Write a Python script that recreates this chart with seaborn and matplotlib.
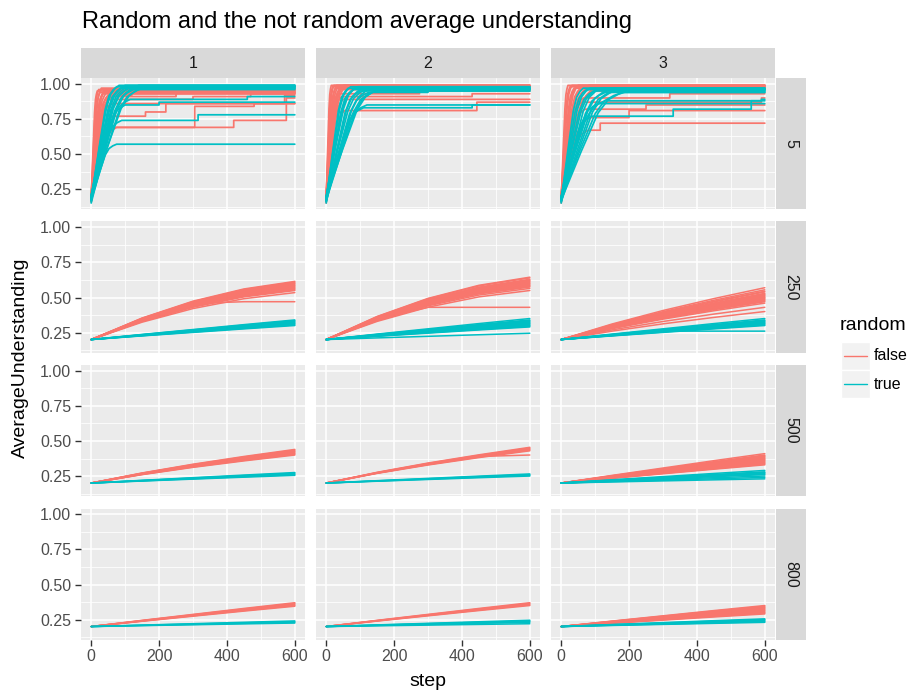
import numpy as np
import pandas as pd
import matplotlib
matplotlib.use("Agg")
import matplotlib.pyplot as plt
import seaborn as sns
from matplotlib.patches import Rectangle
from matplotlib.lines import Line2D

sns.set_theme(style="darkgrid")
plt.rcParams['font.family'] = ['Liberation Sans', 'DejaVu Sans']

# ---------------- data ----------------
TITLE = "Random and the not random average understanding"
COL_LEVELS = ["1", "2", "3"]
ROW_LEVELS = ["5", "250", "500", "800"]
GROUPS = ["false", "true"]
COLORS = {"false": "#F8766D", "true": "#00BFC4"}
X_TICKS = [0, 200, 400, 600]
Y_TICKS = [0.25, 0.50, 0.75, 1.00]
Y_TICK_LABELS = ["0.25", "0.50", "0.75", "1.00"]
LAST_STEP = 600

# Row "5": lines rise fast, then hold a plateau with occasional jumps.
# shape of the early rise (fraction of rise duration -> fraction of rise height)
RISE_FRAC_STEP = [0.0, 0.3, 0.55, 0.7, 0.85, 1.0]
RISE_FRAC_VAL = [0.0, 0.45, 0.8, 0.92, 0.97, 1.0]

# each line: (start value, step where rise ends, plateau, [(jump step, new value), ...])
r5_c1_false = [
    (0.17, 18, 0.95, []), (0.19, 22, 0.96, []), (0.16, 26, 0.94, []),
    (0.20, 30, 0.97, []), (0.18, 34, 0.93, []), (0.21, 38, 0.95, []),
    (0.17, 42, 0.96, []), (0.19, 46, 0.94, []), (0.18, 50, 0.92, [(120, 0.95)]),
    (0.20, 55, 0.93, []), (0.17, 60, 0.91, [(250, 0.94)]),
    (0.16, 66, 0.95, []), (0.19, 72, 0.96, []),
    (0.17, 75, 0.69, [(305, 0.84), (480, 0.86)]),
    (0.19, 70, 0.69, [(420, 0.74), (575, 0.90)]),
    (0.18, 62, 0.77, [(160, 0.80), (220, 0.86)]),
    (0.20, 58, 0.86, [(570, 0.92)]),
    (0.16, 52, 0.89, [(300, 0.91), (470, 0.93)]),
]
r5_c1_true = [
    (0.17, 75, 0.98, []), (0.19, 82, 0.99, []), (0.16, 88, 0.97, []),
    (0.20, 94, 0.98, []), (0.18, 100, 0.99, []), (0.17, 106, 0.98, []),
    (0.21, 112, 0.97, []), (0.19, 118, 0.98, []), (0.18, 125, 0.96, []),
    (0.15, 132, 0.98, []), (0.18, 140, 0.99, []), (0.17, 150, 0.97, []),
    (0.20, 160, 0.98, []),
    (0.18, 75, 0.57, []),
    (0.19, 90, 0.74, [(315, 0.78)]),
    (0.17, 100, 0.85, [(200, 0.87)]),
    (0.18, 115, 0.89, [(460, 0.91)]),
]
r5_c2_false = [
    (0.16, 15, 0.99, []), (0.18, 19, 0.98, []), (0.20, 23, 0.99, []),
    (0.17, 27, 0.97, []), (0.19, 31, 0.99, []), (0.15, 35, 0.98, []),
    (0.21, 39, 0.96, []), (0.18, 43, 0.98, []), (0.20, 47, 0.97, []),
    (0.16, 52, 0.99, []), (0.19, 57, 0.98, []),
    (0.18, 55, 0.81, [(444, 0.87)]),
    (0.19, 45, 0.91, [(430, 0.93)]),
    (0.17, 40, 0.93, [(275, 0.95)]),
    (0.20, 50, 0.89, []),
]
r5_c2_true = [
    (0.16, 65, 0.97, []), (0.18, 72, 0.98, []), (0.17, 79, 0.96, []),
    (0.19, 86, 0.97, []), (0.20, 93, 0.98, []), (0.15, 100, 0.95, []),
    (0.18, 108, 0.97, []), (0.19, 116, 0.96, []), (0.17, 125, 0.94, [(300, 0.96)]),
    (0.16, 135, 0.97, []), (0.18, 145, 0.95, []), (0.17, 155, 0.96, []),
    (0.19, 165, 0.97, []),
    (0.18, 110, 0.83, [(430, 0.85)]),
    (0.19, 120, 0.85, []),
]
r5_c3_false = [
    (0.16, 20, 0.99, []), (0.18, 26, 0.98, []), (0.20, 32, 0.99, []),
    (0.17, 38, 0.97, []), (0.19, 44, 0.98, []), (0.15, 50, 0.99, []),
    (0.21, 57, 0.97, []), (0.18, 64, 0.98, []), (0.20, 72, 0.96, []),
    (0.17, 82, 0.99, []), (0.19, 92, 0.95, [(580, 0.97)]),
    (0.16, 104, 0.98, []),
    (0.18, 80, 0.67, [(115, 0.72)]),
    (0.19, 85, 0.76, [(200, 0.81)]),
    (0.17, 70, 0.82, [(250, 0.85)]),
    (0.20, 65, 0.90, [(320, 0.93)]),
    (0.18, 60, 0.87, [(590, 0.90)]),
]
r5_c3_true = [
    (0.16, 65, 0.97, []), (0.18, 75, 0.96, []), (0.17, 85, 0.97, []),
    (0.19, 96, 0.95, []), (0.20, 107, 0.96, []), (0.15, 118, 0.97, []),
    (0.18, 130, 0.94, []), (0.19, 142, 0.96, []), (0.17, 155, 0.95, []),
    (0.16, 168, 0.96, []), (0.18, 182, 0.94, []), (0.17, 198, 0.95, []),
    (0.18, 90, 0.77, [(330, 0.82), (560, 0.88)]),
    (0.19, 130, 0.88, [(590, 0.89)]),
    (0.17, 110, 0.86, []),
]

# Rows "250", "500", "800": slow growth from 0.2.
START_VALUE = 0.20
KNOTS = [0, 150, 300, 450, 600]
# growth curve: fraction of total gain reached at each knot
CURVE_CONCAVE = [0.0, 0.37, 0.66, 0.87, 1.0]
CURVE_MILD = [0.0, 0.30, 0.56, 0.79, 1.0]
CURVE_LINEAR = [0.0, 0.26, 0.51, 0.76, 1.0]
# ends: final values; stalls: (final value if continued, value where it stops)
r250_c1_false_ends = [0.535, 0.55, 0.555, 0.56, 0.565, 0.57, 0.575, 0.58, 0.585,
                      0.59, 0.595, 0.60, 0.605, 0.61, 0.615]
r250_c1_false_stalls = [(0.59, 0.47)]
r250_c1_true_ends = [0.30, 0.305, 0.31, 0.315, 0.32, 0.325, 0.33, 0.335, 0.34]
r250_c2_false_ends = [0.55, 0.565, 0.575, 0.58, 0.585, 0.59, 0.595, 0.60, 0.605,
                      0.61, 0.615, 0.62, 0.625, 0.63, 0.64, 0.645]
r250_c2_false_stalls = [(0.60, 0.43)]
r250_c2_true_ends = [0.245, 0.29, 0.295, 0.30, 0.305, 0.31, 0.315, 0.32, 0.325,
                     0.33, 0.335, 0.34, 0.35]
r250_c3_false_ends = [0.40, 0.43, 0.46, 0.47, 0.475, 0.48, 0.485, 0.49, 0.495, 0.50,
                      0.505, 0.51, 0.515, 0.52, 0.525, 0.53, 0.54, 0.545, 0.555, 0.57]
r250_c3_true_ends = [0.30, 0.305, 0.31, 0.315, 0.32, 0.325, 0.33, 0.335, 0.34, 0.35]
r250_c3_true_stalls = [(0.32, 0.26)]

r500_c1_false_ends = [0.40, 0.405, 0.41, 0.415, 0.42, 0.425, 0.43, 0.435, 0.44]
r500_c1_true_ends = [0.255, 0.26, 0.265, 0.27, 0.275]
r500_c2_false_ends = [0.43, 0.435, 0.44, 0.445, 0.45, 0.455]
r500_c2_false_stalls = [(0.44, 0.40)]
r500_c2_true_ends = [0.25, 0.255, 0.26, 0.265]
r500_c3_false_ends = [0.33, 0.335, 0.34, 0.345, 0.35, 0.355, 0.36, 0.365, 0.37,
                      0.375, 0.38, 0.385, 0.39, 0.395, 0.40, 0.41]
r500_c3_true_ends = [0.23, 0.24, 0.25, 0.26, 0.265, 0.27, 0.275, 0.28, 0.29]

r800_c1_false_ends = [0.345, 0.35, 0.355, 0.36, 0.365, 0.37]
r800_c1_true_ends = [0.225, 0.23, 0.235, 0.24]
r800_c2_false_ends = [0.35, 0.355, 0.36, 0.365, 0.37]
r800_c2_true_ends = [0.22, 0.23, 0.235, 0.24, 0.245]
r800_c3_false_ends = [0.29, 0.295, 0.30, 0.305, 0.31, 0.315, 0.32, 0.325, 0.33,
                      0.335, 0.34, 0.345, 0.35]
r800_c3_true_ends = [0.23, 0.235, 0.24, 0.245, 0.25, 0.255]

FAST_ROW = {
    ("1", "false"): r5_c1_false, ("1", "true"): r5_c1_true,
    ("2", "false"): r5_c2_false, ("2", "true"): r5_c2_true,
    ("3", "false"): r5_c3_false, ("3", "true"): r5_c3_true,
}
SLOW_ROWS = {
    ("250", "1", "false"): (r250_c1_false_ends, r250_c1_false_stalls, CURVE_CONCAVE),
    ("250", "1", "true"): (r250_c1_true_ends, [], CURVE_LINEAR),
    ("250", "2", "false"): (r250_c2_false_ends, r250_c2_false_stalls, CURVE_CONCAVE),
    ("250", "2", "true"): (r250_c2_true_ends, [], CURVE_LINEAR),
    ("250", "3", "false"): (r250_c3_false_ends, [], CURVE_MILD),
    ("250", "3", "true"): (r250_c3_true_ends, r250_c3_true_stalls, CURVE_LINEAR),
    ("500", "1", "false"): (r500_c1_false_ends, [], CURVE_MILD),
    ("500", "1", "true"): (r500_c1_true_ends, [], CURVE_LINEAR),
    ("500", "2", "false"): (r500_c2_false_ends, r500_c2_false_stalls, CURVE_MILD),
    ("500", "2", "true"): (r500_c2_true_ends, [], CURVE_LINEAR),
    ("500", "3", "false"): (r500_c3_false_ends, [], CURVE_LINEAR),
    ("500", "3", "true"): (r500_c3_true_ends, [], CURVE_LINEAR),
    ("800", "1", "false"): (r800_c1_false_ends, [], CURVE_LINEAR),
    ("800", "1", "true"): (r800_c1_true_ends, [], CURVE_LINEAR),
    ("800", "2", "false"): (r800_c2_false_ends, [], CURVE_LINEAR),
    ("800", "2", "true"): (r800_c2_true_ends, [], CURVE_LINEAR),
    ("800", "3", "false"): (r800_c3_false_ends, [], CURVE_LINEAR),
    ("800", "3", "true"): (r800_c3_true_ends, [], CURVE_LINEAR),
}

# ---------------- build long table ----------------
records = []
run_id = 0
for (col, grp), lines in FAST_ROW.items():
    for start, rise_end, plateau, jumps in lines:
        xs = [rise_end * f for f in RISE_FRAC_STEP]
        ys = [start + (plateau - start) * v for v in RISE_FRAC_VAL]
        cur = plateau
        for s, v in jumps:
            xs += [s, s]
            ys += [cur, v]
            cur = v
        xs.append(LAST_STEP)
        ys.append(cur)
        for x, y in zip(xs, ys):
            records.append(("5", col, grp, run_id, x, y))
        run_id += 1

for (row, col, grp), (ends, stalls, curve) in SLOW_ROWS.items():
    specs = [(e, None) for e in ends] + [(e, s) for e, s in stalls]
    for end, stall in specs:
        for k, f in zip(KNOTS, curve):
            y = START_VALUE + (end - START_VALUE) * f
            if stall is not None:
                y = min(y, stall)
            records.append((row, col, grp, run_id, k, y))
        run_id += 1

df = pd.DataFrame(records, columns=["n", "col", "random", "run", "step", "AverageUnderstanding"])

# ---------------- layout (pixels) ----------------
W, H = 913, 691
fig = plt.figure(figsize=(W / 100, H / 100), dpi=100)
fig.patch.set_facecolor("white")

COL_LEFT = [81, 316, 551]
PANEL_W = 224
ROW_TOP = [78, 221.5, 365, 508.5]
PANEL_H = 131
STRIP_TOP_H = 30
STRIP_RIGHT_W = 30
STRIP_COLOR = "#D9D9D9"

def fx(x):
    return x / W

def fy(y):
    return 1 - y / H

TICK_FS = 11.5
for ri, row in enumerate(ROW_LEVELS):
    for ci, col in enumerate(COL_LEVELS):
        l, t = COL_LEFT[ci], ROW_TOP[ri]
        ax = fig.add_axes([fx(l), fy(t + PANEL_H), PANEL_W / W, PANEL_H / H])
        ax.set_facecolor("#EBEBEB")
        sub = df[(df["n"] == row) & (df["col"] == col)]
        sns.lineplot(data=sub, x="step", y="AverageUnderstanding", hue="random",
                     hue_order=GROUPS, palette=COLORS, units="run", estimator=None,
                     sort=False, lw=1.25 if ri == 0 else 1.1, legend=False, ax=ax)
        ax.set_xlim(-30, 630)
        ax.set_ylim(0.1075, 1.0425)
        ax.set_xticks(X_TICKS)
        ax.set_xticks([100, 300, 500], minor=True)
        ax.set_yticks(Y_TICKS)
        ax.set_yticks([0.125, 0.375, 0.625, 0.875], minor=True)
        ax.grid(which="major", color="white", lw=1.1)
        ax.grid(which="minor", color="white", lw=0.55)
        ax.set_axisbelow(True)
        for sp in ax.spines.values():
            sp.set_visible(False)
        ax.set_xlabel("")
        ax.set_ylabel("")
        ax.tick_params(which="minor", length=0)
        if ci == 0:
            ax.set_yticklabels(Y_TICK_LABELS)
            ax.tick_params(axis="y", which="major", length=4, width=1, color="#333333",
                           labelcolor="#4D4D4D", labelsize=TICK_FS, pad=3, left=True)
        else:
            ax.tick_params(axis="y", which="major", length=0, labelleft=False)
        if ri == len(ROW_LEVELS) - 1:
            ax.set_xticklabels([str(v) for v in X_TICKS])
            ax.tick_params(axis="x", which="major", length=4, width=1, color="#333333",
                           labelcolor="#4D4D4D", labelsize=TICK_FS, pad=3, bottom=True)
        else:
            ax.tick_params(axis="x", which="major", length=0, labelbottom=False)

# top strips
for ci, col in enumerate(COL_LEVELS):
    l = COL_LEFT[ci]
    t = ROW_TOP[0] - STRIP_TOP_H
    fig.add_artist(Rectangle((fx(l), fy(ROW_TOP[0])), PANEL_W / W, STRIP_TOP_H / H,
                             transform=fig.transFigure, facecolor=STRIP_COLOR, edgecolor="none"))
    fig.text(fx(l + PANEL_W / 2), fy(t + STRIP_TOP_H / 2), col, ha="center", va="center",
             fontsize=TICK_FS, color="#1A1A1A")

# right strips
rs_left = COL_LEFT[2] + PANEL_W + 1
for ri, row in enumerate(ROW_LEVELS):
    t = ROW_TOP[ri]
    fig.add_artist(Rectangle((fx(rs_left), fy(t + PANEL_H)), STRIP_RIGHT_W / W, PANEL_H / H,
                             transform=fig.transFigure, facecolor=STRIP_COLOR, edgecolor="none"))
    fig.text(fx(rs_left + STRIP_RIGHT_W / 2), fy(t + PANEL_H / 2), row, ha="center", va="center",
             rotation=-90, fontsize=TICK_FS, color="#1A1A1A")

# titles
fig.text(fx(82), fy(22), TITLE, ha="left", va="center", fontsize=17, color="black")
fig.text(fx(428), fy(681), "step", ha="center", va="center", fontsize=14, color="black")
fig.text(fx(20), fy(358), "AverageUnderstanding", ha="center", va="center",
         rotation=90, fontsize=14, color="black")

# legend
fig.text(fx(840), fy(326), "random", ha="left", va="center", fontsize=14, color="black")
for i, grp in enumerate(GROUPS):
    top = 342 + i * 28
    fig.add_artist(Rectangle((fx(841), fy(top + 28)), 29 / W, 28 / H,
                             transform=fig.transFigure, facecolor="#F2F2F2", edgecolor="white", lw=1))
    fig.add_artist(Line2D([fx(844), fx(867)], [fy(top + 14), fy(top + 14)],
                          transform=fig.transFigure, color=COLORS[grp], lw=1.0))
    fig.text(fx(874), fy(top + 14), grp, ha="left", va="center", fontsize=11.5, color="black")

fig.savefig("out.png", dpi=100)
